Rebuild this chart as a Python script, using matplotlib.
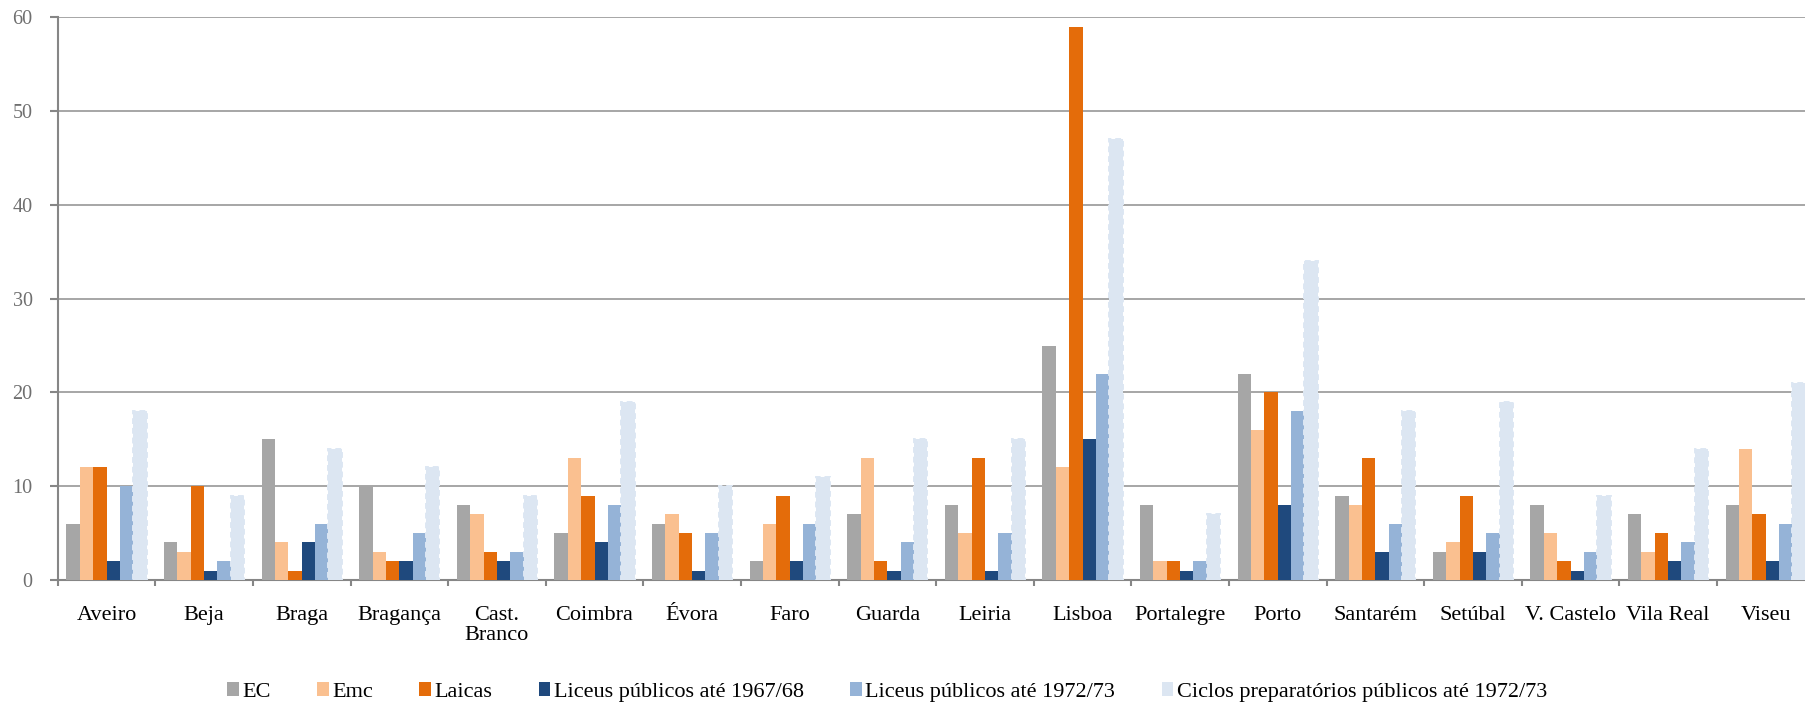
import matplotlib
matplotlib.use("Agg")
import matplotlib.pyplot as plt
from matplotlib.patches import Patch
import numpy as np

plt.rcParams['font.family'] = ['Liberation Serif', 'DejaVu Serif']

districts = ["Aveiro", "Beja", "Braga", "Bragança", "Cast.\nBranco", "Coimbra",
             "Évora", "Faro", "Guarda", "Leiria", "Lisboa", "Portalegre", "Porto",
             "Santarém", "Setúbal", "V. Castelo", "Vila Real", "Viseu"]

ec =          [6, 4, 15, 10, 8, 5, 6, 2, 7, 8, 25, 8, 22, 9, 3, 8, 7, 8]
emc =         [12, 3, 4, 3, 7, 13, 7, 6, 13, 5, 12, 2, 16, 8, 4, 5, 3, 14]
laicas =      [12, 10, 1, 2, 3, 9, 5, 9, 2, 13, 59, 2, 20, 13, 9, 2, 5, 7]
liceus_6768 = [2, 1, 4, 2, 2, 4, 1, 2, 1, 1, 15, 1, 8, 3, 3, 1, 2, 2]
liceus_7273 = [10, 2, 6, 5, 3, 8, 5, 6, 4, 5, 22, 2, 18, 6, 5, 3, 4, 6]
ciclos_7273 = [18, 9, 14, 12, 9, 19, 10, 11, 15, 15, 47, 7, 34, 18, 19, 9, 14, 21]

series_names = ["EC", "Emc", "Laicas", "Liceus públicos até 1967/68",
                "Liceus públicos até 1972/73",
                "Ciclos preparatórios públicos até 1972/73"]
series_values = [ec, emc, laicas, liceus_6768, liceus_7273, ciclos_7273]
colors = ["#a6a6a6", "#fac090", "#e46c0a", "#1f497d", "#95b3d7", "#dce6f2"]

W, H = 1805, 706
fig = plt.figure(figsize=(W / 100, H / 100), dpi=100)
ax_left, ax_right = 57.7, 57.7 + 18 * 97.6
ax_bottom, ax_top = 580.0, 17.3
ax = fig.add_axes([ax_left / W, 1 - ax_bottom / H,
                   (ax_right - ax_left) / W, (ax_bottom - ax_top) / H])

x = np.arange(len(districts))
bw = 0.137
for i, (vals, col) in enumerate(zip(series_values, colors)):
    offs = (i - 2.5) * bw
    if i == 5:
        ax.bar(x + offs, vals, width=bw, color=col, edgecolor="#dde7f3",
               linewidth=1.4, linestyle=(0, (3, 2)), zorder=3)
    else:
        ax.bar(x + offs, vals, width=bw, color=col, linewidth=0, zorder=3)

ax.set_xlim(-0.5, len(districts) - 0.5)
ax.set_ylim(0, 60)
ax.set_yticks(np.arange(0, 61, 10))
ax.yaxis.grid(True, color="#a6a6a6", linewidth=1.4, zorder=0)
ax.set_axisbelow(True)

for s in ["top", "right"]:
    ax.spines[s].set_visible(False)
for s in ["left", "bottom"]:
    ax.spines[s].set_color("#868686")
    ax.spines[s].set_linewidth(1.5)

ax.set_xticks(np.arange(len(districts) + 1) - 0.5, minor=False)
ax.set_xticklabels([])
ax.tick_params(axis="x", which="major", length=4, width=1.5, color="#868686")
ax.set_xticks(x, minor=True)
ax.set_xticklabels(districts, minor=True, fontsize=16, color="black")
ax.tick_params(axis="x", which="minor", length=0, pad=19)
for lbl in ax.get_xticklabels(minor=True):
    lbl.set_linespacing(1.05)

ax.tick_params(axis="y", length=6, width=1.5, color="#868686",
               labelsize=14.5, labelcolor="#6f6f6f", pad=12)

handles = [Patch(facecolor=c, edgecolor="none") for c in colors]
fig.legend(handles, series_names, loc="center", ncol=6, frameon=False,
           bbox_to_anchor=(887 / W, 1 - 692 / H), fontsize=16,
           handlelength=0.52, handleheight=0.57, handletextpad=0.15,
           columnspacing=2.1, borderaxespad=0, borderpad=0)

fig.savefig("out.png", dpi=100)
